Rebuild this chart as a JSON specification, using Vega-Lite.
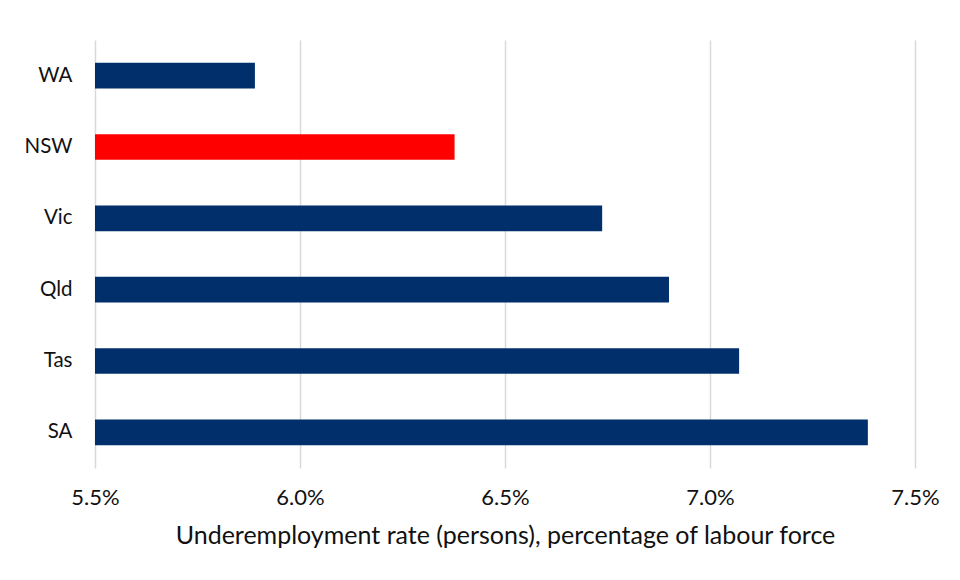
{
  "$schema": "https://vega.github.io/schema/vega-lite/v6.json",
  "width": 820,
  "height": 428,
  "autosize": {"type": "none"},
  "padding": {"left": 95, "top": 40, "right": 45, "bottom": 112},
  "background": "#ffffff",
  "data": {
    "values": [
      {"state": "WA", "rate": 5.89, "highlight": "no"},
      {"state": "NSW", "rate": 6.377, "highlight": "yes"},
      {"state": "Vic", "rate": 6.737, "highlight": "no"},
      {"state": "Qld", "rate": 6.9, "highlight": "no"},
      {"state": "Tas", "rate": 7.071, "highlight": "no"},
      {"state": "SA", "rate": 7.385, "highlight": "no"}
    ]
  },
  "mark": {"type": "bar", "clip": true},
  "encoding": {
    "y": {
      "field": "state",
      "type": "nominal",
      "sort": null,
      "scale": {"paddingInner": 0.64, "paddingOuter": 0.32},
      "axis": {
        "title": null,
        "domain": false,
        "ticks": false,
        "labelFont": "Lato",
        "labelFontSize": 20.5,
        "labelColor": "#111111",
        "labelPadding": 23
      }
    },
    "x": {
      "field": "rate",
      "type": "quantitative",
      "scale": {"domain": [5.5, 7.5], "nice": false, "zero": false},
      "axis": {
        "title": "Underemployment rate (persons), percentage of labour force",
        "values": [5.5, 6.0, 6.5, 7.0, 7.5],
        "labelExpr": "format(datum.value, '.1f') + '%'",
        "labelFlush": false,
        "domain": false,
        "ticks": false,
        "grid": true,
        "gridColor": "#d9d9d9",
        "gridWidth": 1.5,
        "labelFont": "Lato",
        "labelFontSize": 22,
        "labelColor": "#111111",
        "labelPadding": 19,
        "titleFont": "Lato",
        "titleFontSize": 25,
        "titleFontWeight": "normal",
        "titleColor": "#111111",
        "titlePadding": 15
      }
    },
    "color": {
      "field": "highlight",
      "type": "nominal",
      "scale": {"domain": ["no", "yes"], "range": ["#002f6c", "#ff0000"]},
      "legend": null
    }
  },
  "config": {"view": {"stroke": null}}
}
